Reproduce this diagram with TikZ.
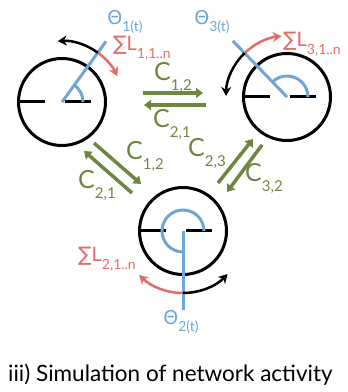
\documentclass[tikz,border=0pt]{standalone}
\usepackage{fontspec}
\setmainfont{Lato}
\newfontfamily\symfont{DejaVu Sans}
\usetikzlibrary{arrows.meta}
\definecolor{cblue}{RGB}{111,166,216}
\definecolor{cred}{RGB}{224,110,102}
\definecolor{cgreen}{RGB}{112,134,62}
\newcommand{\lsub}[1]{\raisebox{-0.38em}{\fontsize{14}{14}\selectfont #1}}
\newcommand{\csub}[1]{\raisebox{-0.4em}{\fontsize{15}{15}\selectfont #1}}
\begin{document}
\begin{tikzpicture}[x=1pt,y=1pt,
  osc/.style={circle,draw=black,line width=3pt,minimum size=87pt,inner sep=0pt},
  bar/.style={line width=3pt,black},
  phase/.style={line width=3pt,cblue},
  turn/.style={line width=2.5pt,-{Stealth[length=9pt,width=10pt]}},
  coup/.style={line width=3.5pt,cgreen,-{Triangle[length=7pt,width=10pt]}},
  clab/.style={text=cgreen,font=\fontsize{25}{25}\selectfont,inner sep=0pt},
  tlab/.style={text=cblue,font=\fontsize{19}{19}\selectfont,inner sep=0pt},
  llab/.style={text=cred,font=\fontsize{20}{20}\selectfont,inner sep=0pt}]
\useasboundingbox (0,0) rectangle (348,392);
% oscillators
\node[osc] (c1) at (62,290) {};
\node[osc] (c3) at (287,295) {};
\node[osc] (c2) at (183,161) {};
\foreach \c in {c1,c2,c3}{
  \draw[bar] (\c.center) ++(-44,0) -- ++(27,0);
  \draw[bar] (\c.center) ++(3,0) -- ++(26,0);
}
% phase lines and angle arcs
\draw[phase] (c1.center) -- ++(54:75) coordinate (p1);
\draw[phase] (c1.center) ++(21,0) arc[start angle=0,end angle=54,radius=21];
\draw[phase] (c3.center) -- ++(134:78) coordinate (p3);
\draw[phase] (c3.center) ++(21,0) arc[start angle=0,end angle=134,radius=21];
\draw[phase] (c2.center) -- ++(270:79) coordinate (p2);
\draw[phase] (c2.center) ++(21,0) arc[start angle=0,end angle=270,radius=21];
% rotation arrows
\draw[turn,cred] (c1.center) ++(54:61) arc[start angle=54,end angle=25,radius=61];
\draw[turn,black] (c1.center) ++(54:61) arc[start angle=54,end angle=94,radius=61];
\draw[turn,cred] (c3.center) ++(134:61) arc[start angle=134,end angle=95,radius=61];
\draw[turn,black] (c3.center) ++(134:61) arc[start angle=134,end angle=179,radius=61];
\draw[turn,cred] (c2.center) ++(270:62) arc[start angle=270,end angle=225,radius=62];
\draw[turn,black] (c2.center) ++(270:62) arc[start angle=270,end angle=316,radius=62];
% labels
\node[tlab] (t1) at (125,370) {{\symfont Θ}\lsub{1(t)}};
\node[llab] (l1) at (142,344) {{\symfont ∑}L\lsub{1,1..n}};
\node[tlab] (t3) at (212,370) {{\symfont Θ}\lsub{3(t)}};
\node[llab] (l3) at (312,348) {{\symfont ∑}L\lsub{3,1..n}};
\node[llab] (l2) at (107,133) {{\symfont ∑}L\lsub{2,1..n}};
\node[tlab] (t2) at (181,70) {{\symfont Θ}\lsub{2(t)}};
% coupling arrows
\coordinate (h1a) at (143,299); \coordinate (h1b) at (203,299);
\coordinate (h2a) at (206,287); \coordinate (h2b) at (144,287);
\coordinate (la1) at (94,249);  \coordinate (la2) at (141,208);
\coordinate (lb1) at (132,199); \coordinate (lb2) at (84,241);
\coordinate (ra1) at (218,209); \coordinate (ra2) at (253,253);
\coordinate (rb1) at (262,247); \coordinate (rb2) at (227,200);
\draw[coup] (h1a) -- (h1b);
\draw[coup] (h2a) -- (h2b);
\draw[coup] (la1) -- (la2);
\draw[coup] (lb1) -- (lb2);
\draw[coup] (ra1) -- (ra2);
\draw[coup] (rb1) -- (rb2);
\node[clab] (k1) at (173,315) {C\csub{1,2}};
\node[clab] (k2) at (172,268) {C\csub{2,1}};
\node[clab] (k3) at (145,236) {C\csub{1,2}};
\node[clab] (k4) at (97,207) {C\csub{2,1}};
\node[clab] (k5) at (207,239) {C\csub{2,3}};
\node[clab] (k6) at (264,214) {C\csub{3,2}};
% caption
\node[anchor=west,inner sep=0pt,font=\fontsize{22.5}{22.5}\selectfont] (cap) at (8,17) {iii) Simulation of network activity};
\end{tikzpicture}
\end{document}
